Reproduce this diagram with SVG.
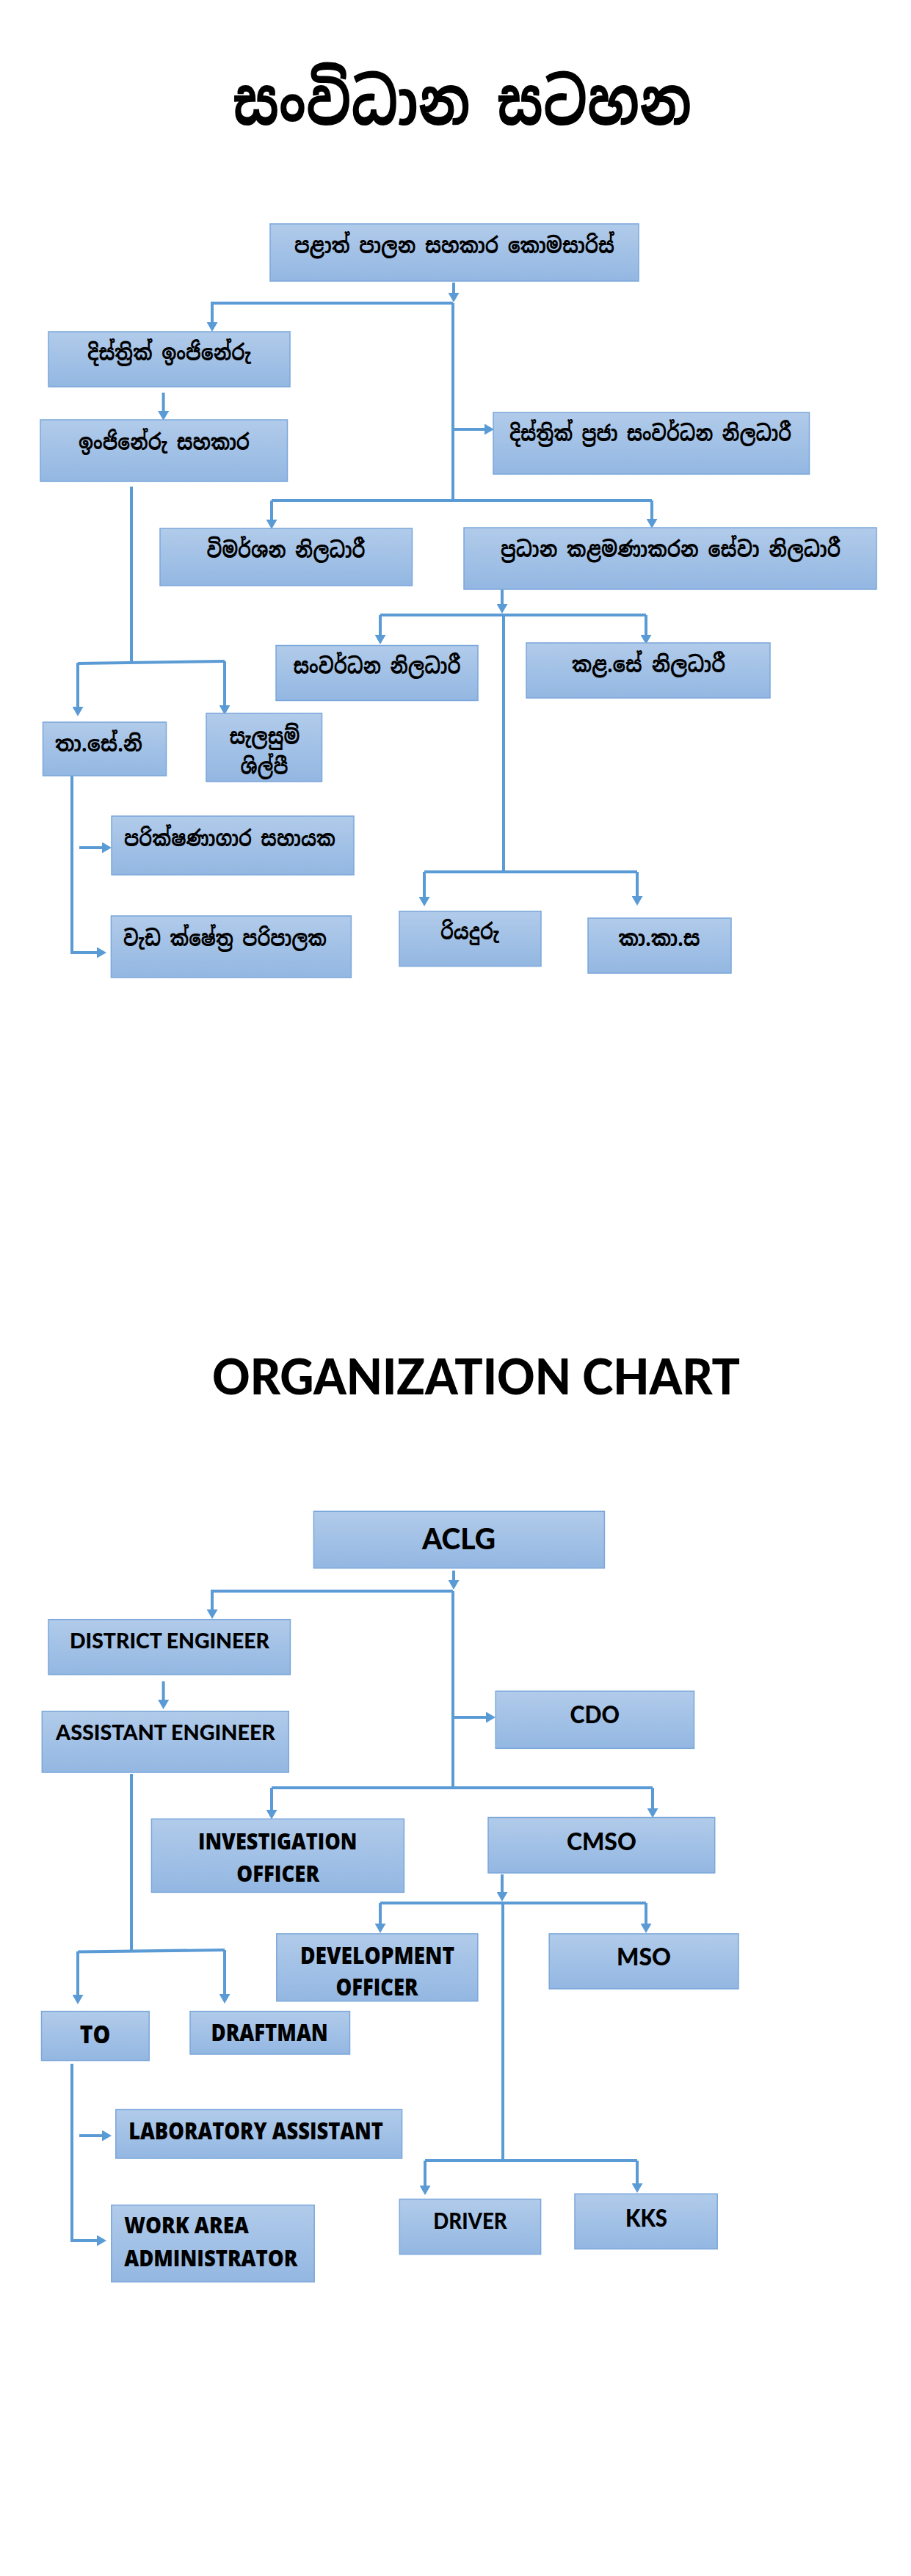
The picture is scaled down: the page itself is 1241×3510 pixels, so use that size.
<svg xmlns="http://www.w3.org/2000/svg" width="1241" height="3510" viewBox="0 0 1241 3510">
<defs>
<linearGradient id="g" x1="0" y1="0" x2="0" y2="1">
<stop offset="0" stop-color="#b1cbea"/>
<stop offset="1" stop-color="#93b7e2"/>
</linearGradient>
<marker id="ah" markerUnits="userSpaceOnUse" markerWidth="13" markerHeight="15" viewBox="0 0 13 15" refX="0" refY="7.5" orient="auto">
<path d="M0,0 L13,7.5 L0,15 z" fill="#5b9bd5"/>
</marker>
<style>
.box{fill:url(#g);stroke:#7ba7da;stroke-width:1.5}
.si{font-family:"Noto Sans Sinhala","Noto Serif Sinhala","Iskoola Pota","Lohit Sinhala","LKLUG","Noto Sans",sans-serif;font-weight:bold;fill:#000}
.cal{font-family:Lato,"Open Sans","Liberation Sans",sans-serif;font-weight:900;fill:#000}
.wide{font-family:"Open Sans","Liberation Sans",sans-serif;font-weight:800;fill:#000}
.c{fill:none;stroke:#5b9bd5;stroke-width:4}
.a{fill:none;stroke:#5b9bd5;stroke-width:4;marker-end:url(#ah)}
</style>
</defs>
<rect width="1241" height="3510" fill="#fff"/>

<text class="si" x="317" y="170" font-size="88" textLength="625" lengthAdjust="spacingAndGlyphs">සංවිධාන සටහන</text>

<g id="connectors-si">
<path class="a" d="M618,385 V399"/>
<path class="c" d="M617,413 V682"/>
<path class="a" d="M617,413 H289 V439"/>
<path class="a" d="M617,585 H660"/>
<path class="c" d="M370,682 H888"/>
<path class="a" d="M370,682 V708"/>
<path class="a" d="M888,682 V707"/>
<path class="a" d="M222.6,535 V560"/>
<path class="c" d="M179,663 V903"/>
<path class="c" d="M106,904 L306,901"/>
<path class="a" d="M106,903 V963"/>
<path class="a" d="M306,901 V961"/>
<path class="a" d="M98,1057 V1298 H132"/>
<path class="a" d="M108,1155 H139"/>
<path class="a" d="M684,803 V823"/>
<path class="c" d="M518,838 H880"/>
<path class="a" d="M518,838 V865"/>
<path class="a" d="M880,838 V865"/>
<path class="c" d="M686,838 V1188"/>
<path class="c" d="M578,1188 H868"/>
<path class="a" d="M578,1188 V1222"/>
<path class="a" d="M868,1188 V1221"/>
</g>

<g id="s1"><rect class="box" x="368" y="305" width="502" height="78"/><text class="si" x="401" y="345" font-size="30" textLength="436" lengthAdjust="spacingAndGlyphs">පළාත් පාලන සහකාර කොමසාරිස්</text></g>
<g id="s2"><rect class="box" x="66" y="452" width="329" height="75"/><text class="si" x="119" y="491" font-size="30" textLength="223" lengthAdjust="spacingAndGlyphs">දිස්ත්‍රික් ඉංජිනේරු</text></g>
<g id="s3"><rect class="box" x="55" y="572" width="336.5" height="84"/><text class="si" x="107" y="613" font-size="30" textLength="233" lengthAdjust="spacingAndGlyphs">ඉංජිනේරු සහකාර</text></g>
<g id="s4"><rect class="box" x="672" y="562" width="430.5" height="84"/><text class="si" x="694" y="601" font-size="30" textLength="384" lengthAdjust="spacingAndGlyphs">දිස්ත්‍රික් ප්‍රජා සංවර්ධන නිලධාරී</text></g>
<g id="s5"><rect class="box" x="218" y="720" width="343.5" height="78"/><text class="si" x="281.5" y="760" font-size="30" textLength="216" lengthAdjust="spacingAndGlyphs">විමර්ශන නිලධාරී</text></g>
<g id="s6"><rect class="box" x="632" y="719" width="562" height="84"/><text class="si" x="682" y="759" font-size="30" textLength="463" lengthAdjust="spacingAndGlyphs">ප්‍රධාන කළමණාකරන සේවා නිලධාරී</text></g>
<g id="s7"><rect class="box" x="376" y="879.5" width="275" height="75"/><text class="si" x="399.5" y="918" font-size="30" textLength="228" lengthAdjust="spacingAndGlyphs">සංවර්ධන නිලධාරී</text></g>
<g id="s8"><rect class="box" x="717" y="876" width="332" height="75"/><text class="si" x="779" y="916" font-size="30" textLength="209" lengthAdjust="spacingAndGlyphs">කළ.සේ නිලධාරී</text></g>
<g id="s9"><rect class="box" x="58.5" y="984" width="168" height="73"/><text class="si" x="75" y="1024" font-size="30" textLength="119" lengthAdjust="spacingAndGlyphs">තා.සේ.නි</text></g>
<g id="s10"><rect class="box" x="281" y="972" width="157.5" height="93"/><text class="si" x="312.5" y="1014" font-size="30" textLength="96" lengthAdjust="spacingAndGlyphs">සැලසුම්</text><text class="si" x="327.5" y="1055" font-size="30" textLength="65" lengthAdjust="spacingAndGlyphs">ශිල්පී</text></g>
<g id="s11"><rect class="box" x="152" y="1112" width="330" height="80"/><text class="si" x="169" y="1153" font-size="30" textLength="288" lengthAdjust="spacingAndGlyphs">පරික්ෂණාගාර සහායක</text></g>
<g id="s12"><rect class="box" x="151.4" y="1248" width="327" height="84"/><text class="si" x="168" y="1289" font-size="30" textLength="277" lengthAdjust="spacingAndGlyphs">වැඩ ක්ෂේත්‍ර පරිපාලක</text></g>
<g id="s13"><rect class="box" x="544" y="1241.6" width="193" height="75"/><text class="si" x="600" y="1280" font-size="30" textLength="80" lengthAdjust="spacingAndGlyphs">රියදුරු</text></g>
<g id="s14"><rect class="box" x="801" y="1251" width="195" height="75"/><text class="si" x="842.6" y="1289" font-size="30" textLength="111" lengthAdjust="spacingAndGlyphs">කා.කා.ස</text></g>

<text class="cal" x="289" y="1900" font-size="66" textLength="719" lengthAdjust="spacingAndGlyphs">ORGANIZATION CHART</text>

<g id="connectors-en">
<path class="a" d="M618,2140 V2153"/>
<path class="c" d="M617,2168 V2436"/>
<path class="a" d="M617,2168 H289 V2193"/>
<path class="a" d="M222.6,2291 V2316"/>
<path class="a" d="M617,2340 H662"/>
<path class="c" d="M370,2436 H889"/>
<path class="a" d="M370,2436 V2466"/>
<path class="a" d="M889,2436 V2464"/>
<path class="c" d="M179,2417 V2658"/>
<path class="c" d="M106,2659.5 L306,2657"/>
<path class="a" d="M106,2659 V2718"/>
<path class="a" d="M306,2657 V2717"/>
<path class="a" d="M98,2812 V3053 H132"/>
<path class="a" d="M108,2910 H139"/>
<path class="a" d="M684,2554 V2578"/>
<path class="c" d="M518,2593 H880"/>
<path class="a" d="M518,2593 V2621"/>
<path class="a" d="M880,2593 V2621"/>
<path class="c" d="M685,2593 V2944"/>
<path class="c" d="M579,2944 H868"/>
<path class="a" d="M579,2944 V2978"/>
<path class="a" d="M868,2944 V2975"/>
</g>

<g id="e1"><rect class="box" x="427.4" y="2059.3" width="396" height="77.4"/><text class="cal" x="575" y="2111" font-size="39" textLength="100" lengthAdjust="spacingAndGlyphs">ACLG</text></g>
<g id="e2"><rect class="box" x="66" y="2206.7" width="329.4" height="75"/><text class="cal" x="95" y="2246" font-size="28" textLength="272" lengthAdjust="spacingAndGlyphs">DISTRICT ENGINEER</text></g>
<g id="e3"><rect class="box" x="57.3" y="2331.7" width="336" height="83.3"/><text class="cal" x="76" y="2370.7" font-size="28" textLength="299" lengthAdjust="spacingAndGlyphs">ASSISTANT ENGINEER</text></g>
<g id="e4"><rect class="box" x="675.2" y="2304.3" width="270.3" height="78"/><text class="cal" x="776.6" y="2347.7" font-size="32" textLength="67.4" lengthAdjust="spacingAndGlyphs">CDO</text></g>
<g id="e5"><rect class="box" x="206.4" y="2478.4" width="344" height="100"/><text class="wide" x="270" y="2519.6" font-size="30" textLength="216.4" lengthAdjust="spacingAndGlyphs">INVESTIGATION</text><text class="wide" x="322.3" y="2563.6" font-size="30" textLength="112.7" lengthAdjust="spacingAndGlyphs">OFFICER</text></g>
<g id="e6"><rect class="box" x="665" y="2476.5" width="308.7" height="75.5"/><text class="cal" x="772" y="2520.5" font-size="33" textLength="94.8" lengthAdjust="spacingAndGlyphs">CMSO</text></g>
<g id="e7"><rect class="box" x="376.8" y="2634.9" width="274" height="91.8"/><text class="wide" x="409" y="2676" font-size="31" textLength="210" lengthAdjust="spacingAndGlyphs">DEVELOPMENT</text><text class="wide" x="457.5" y="2718.6" font-size="31" textLength="112" lengthAdjust="spacingAndGlyphs">OFFICER</text></g>
<g id="e8"><rect class="box" x="748.2" y="2634.9" width="257.8" height="75"/><text class="cal" x="840" y="2678.4" font-size="33" textLength="74" lengthAdjust="spacingAndGlyphs">MSO</text></g>
<g id="e9"><rect class="box" x="56.5" y="2740.6" width="146.7" height="67"/><text class="wide" x="108.7" y="2783.6" font-size="33" textLength="41.6" lengthAdjust="spacingAndGlyphs">TO</text></g>
<g id="e10"><rect class="box" x="259" y="2740.6" width="217.5" height="58.4"/><text class="wide" x="287.5" y="2781.2" font-size="31.5" textLength="159.3" lengthAdjust="spacingAndGlyphs">DRAFTMAN</text></g>
<g id="e11"><rect class="box" x="157.8" y="2874.5" width="389.8" height="66.5"/><text class="wide" x="175.2" y="2914.7" font-size="31" textLength="346.8" lengthAdjust="spacingAndGlyphs">LABORATORY ASSISTANT</text></g>
<g id="e12"><rect class="box" x="151.8" y="3004.6" width="276.4" height="104.7"/><text class="wide" x="169.2" y="3043.4" font-size="30" textLength="169.7" lengthAdjust="spacingAndGlyphs">WORK AREA</text><text class="wide" x="169.2" y="3087.5" font-size="30" textLength="236.1" lengthAdjust="spacingAndGlyphs">ADMINISTRATOR</text></g>
<g id="e13"><rect class="box" x="544.3" y="2996.5" width="192.3" height="75.1"/><text class="cal" x="590.3" y="3037" font-size="31" textLength="100.4" lengthAdjust="spacingAndGlyphs">DRIVER</text></g>
<g id="e14"><rect class="box" x="783" y="2989.3" width="194.2" height="75.1"/><text class="cal" x="852" y="3033.8" font-size="33" textLength="57" lengthAdjust="spacingAndGlyphs">KKS</text></g>
</svg>
